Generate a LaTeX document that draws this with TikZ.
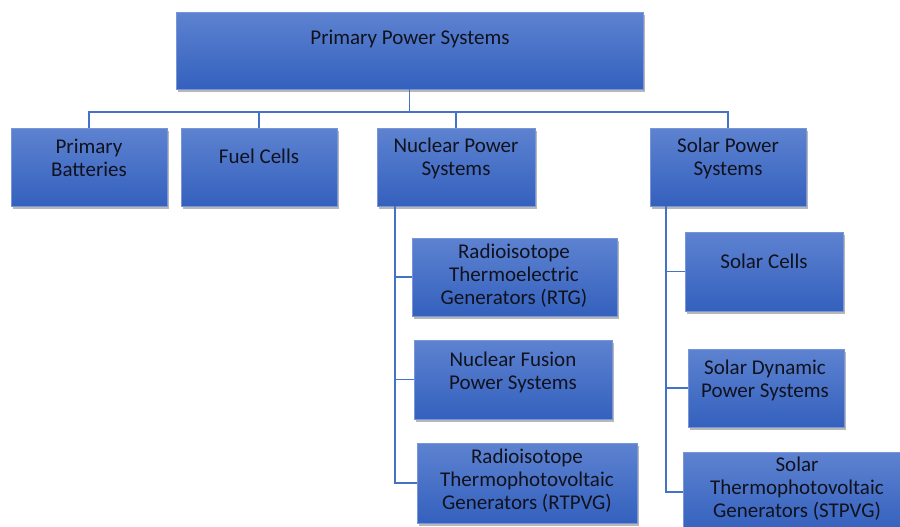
\documentclass[tikz,border=0pt]{standalone}
\usepackage{fontspec}
\setmainfont{Carlito}
\usetikzlibrary{fit,shadows,calc}
\definecolor{boxtop}{RGB}{93,130,208}
\definecolor{boxbot}{RGB}{52,97,190}
\definecolor{boxedge}{RGB}{120,150,215}
\definecolor{wire}{RGB}{68,114,196}
\definecolor{ink}{RGB}{16,18,30}
\begin{document}
\begin{tikzpicture}[x=0.5pt,y=-0.5pt,
  box/.style={draw=boxedge, line width=0.4pt, top color=boxtop, bottom color=boxbot,
    inner sep=0pt, drop shadow={shadow xshift=0.9pt, shadow yshift=-1.3pt, opacity=0.35, fill=black!80}},
  lbl/.style={text=ink, align=center, font=\fontsize{10.5}{11.5}\selectfont, inner sep=0pt},
  wirestyle/.style={draw=wire, line width=0.7pt}]
\clip (0,0) rectangle (900,526);
\fill[white] (0,0) rectangle (900,526);

% boxes
\node[box, fit={(176,12)(643,89)}] (top) {};
\node[box, fit={(11,128)(167,206)}] (pb) {};
\node[box, fit={(181,128)(337,206)}] (fc) {};
\node[box, fit={(377,128)(535,206)}] (np) {};
\node[box, fit={(650,128)(806,206)}] (sp) {};
\node[box, fit={(412,238)(617,316)}] (rtg) {};
\node[box, fit={(414,340)(612,419)}] (fus) {};
\node[box, fit={(417,443)(637,523)}] (rtpvg) {};
\node[box, fit={(685,232)(843,311)}] (sc) {};
\node[box, fit={(688,349)(844,427)}] (sd) {};
\node[box, fit={(683,452)(911,532)}] (st) {};

% labels
\node[lbl] (topt) at (410,39) {Primary Power Systems};
\node[lbl] (pbt) at (89,158) {Primary\\Batteries};
\node[lbl] (fct) at (259,156) {Fuel Cells};
\node[lbl] (npt) at (456,158) {Nuclear Power\\Systems};
\node[lbl] (spt) at (728,158) {Solar Power\\Systems};
\node[lbl] (rtgt) at (514,276) {Radioisotope\\Thermoelectric\\Generators (RTG)};
\node[lbl] (fust) at (513,372) {Nuclear Fusion\\Power Systems};
\node[lbl] (rtpvgt) at (527,481) {Radioisotope\\Thermophotovoltaic\\Generators (RTPVG)};
\node[lbl] (sct) at (764,261) {Solar Cells};
\node[lbl] (sdt) at (765,380) {Solar Dynamic\\Power Systems};
\node[lbl] (stt) at (797,489) {Solar\\Thermophotovoltaic\\Generators (STPVG)};

% bus and spines
\coordinate (bus) at (0,112);
\coordinate (nsp) at (395,206);
\coordinate (ssp) at (666,206);

% connectors
\draw[wirestyle] (top.south) -- (top.south |- bus) -| (pb.north);
\draw[wirestyle] (top.south |- bus) -| (fc.north);
\draw[wirestyle] (top.south |- bus) -| (np.north);
\draw[wirestyle] (top.south |- bus) -| (sp.north);
\draw[wirestyle] (nsp) |- (rtg.west);
\draw[wirestyle] (nsp) |- (fus.west);
\draw[wirestyle] (nsp) |- (rtpvg.west);
\draw[wirestyle] (ssp) |- (sc.west);
\draw[wirestyle] (ssp) |- (sd.west);
\draw[wirestyle] (ssp) |- (st.west);
\end{tikzpicture}
\end{document}
